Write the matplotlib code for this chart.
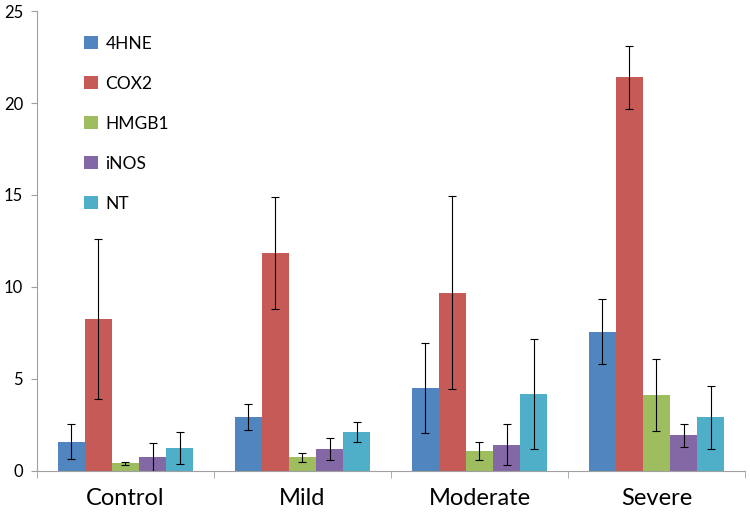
import numpy as np
import matplotlib.pyplot as plt

plt.rcParams['font.family'] = ['Lato', 'DejaVu Sans']

groups = ['Control', 'Mild', 'Moderate', 'Severe']
markers = ['4HNE', 'COX2', 'HMGB1', 'iNOS', 'NT']
colors = ['#5085C0', '#C65A57', '#9DBD5E', '#8468A6', '#4FAEC8']

# mean values per marker (Control, Mild, Moderate, Severe)
hne = [1.6, 2.93, 4.51, 7.57]
cox2 = [8.24, 11.83, 9.69, 21.4]
hmgb1 = [0.43, 0.75, 1.1, 4.12]
inos = [0.75, 1.18, 1.43, 1.93]
nt = [1.25, 2.1, 4.2, 2.91]

# error (+/-)
hne_err = [0.95, 0.72, 2.45, 1.77]
cox2_err = [4.35, 3.05, 5.25, 1.72]
hmgb1_err = [0.08, 0.25, 0.5, 1.97]
inos_err = [0.77, 0.6, 1.12, 0.65]
nt_err = [0.85, 0.55, 3.0, 1.72]

values = [hne, cox2, hmgb1, inos, nt]
errors = [hne_err, cox2_err, hmgb1_err, inos_err, nt_err]

fig = plt.figure(figsize=(7.5, 5.19), dpi=100)
ax = fig.add_axes([0.0493, 0.0925, 0.944, 0.8863])

x = np.arange(len(groups))
w = 0.153
for i, (name, vals, err) in enumerate(zip(markers, values, errors)):
    ax.bar(x + (i - 2) * w, vals, w, color=colors[i], label=name,
           yerr=err, error_kw=dict(ecolor='black', elinewidth=0.8, capsize=3, capthick=0.8))

ax.set_xlim(-0.5, 3.5)
ax.set_ylim(0, 25)
ax.set_yticks([0, 5, 10, 15, 20, 25])
ax.set_xticks(x)
ax.set_xticklabels(groups, fontsize=17)
ax.set_xticks(np.arange(-0.5, 4, 1), minor=True)
ax.tick_params(axis='x', which='major', length=0, pad=12)
ax.tick_params(axis='x', which='minor', length=5, color='#A0A0A0', direction='out')
ax.tick_params(axis='y', length=4, color='#A0A0A0', labelsize=12, pad=6)

for s in ['top', 'right']:
    ax.spines[s].set_visible(False)
for s in ['left', 'bottom']:
    ax.spines[s].set_color('#A0A0A0')
    ax.spines[s].set_linewidth(0.8)

ax.legend(loc='upper left', bbox_to_anchor=(0.045, 0.98), frameon=False, fontsize=12.5,
          handlelength=0.8, handleheight=0.8, handletextpad=0.4, labelspacing=1.38)

fig.savefig('out.png', dpi=100)
